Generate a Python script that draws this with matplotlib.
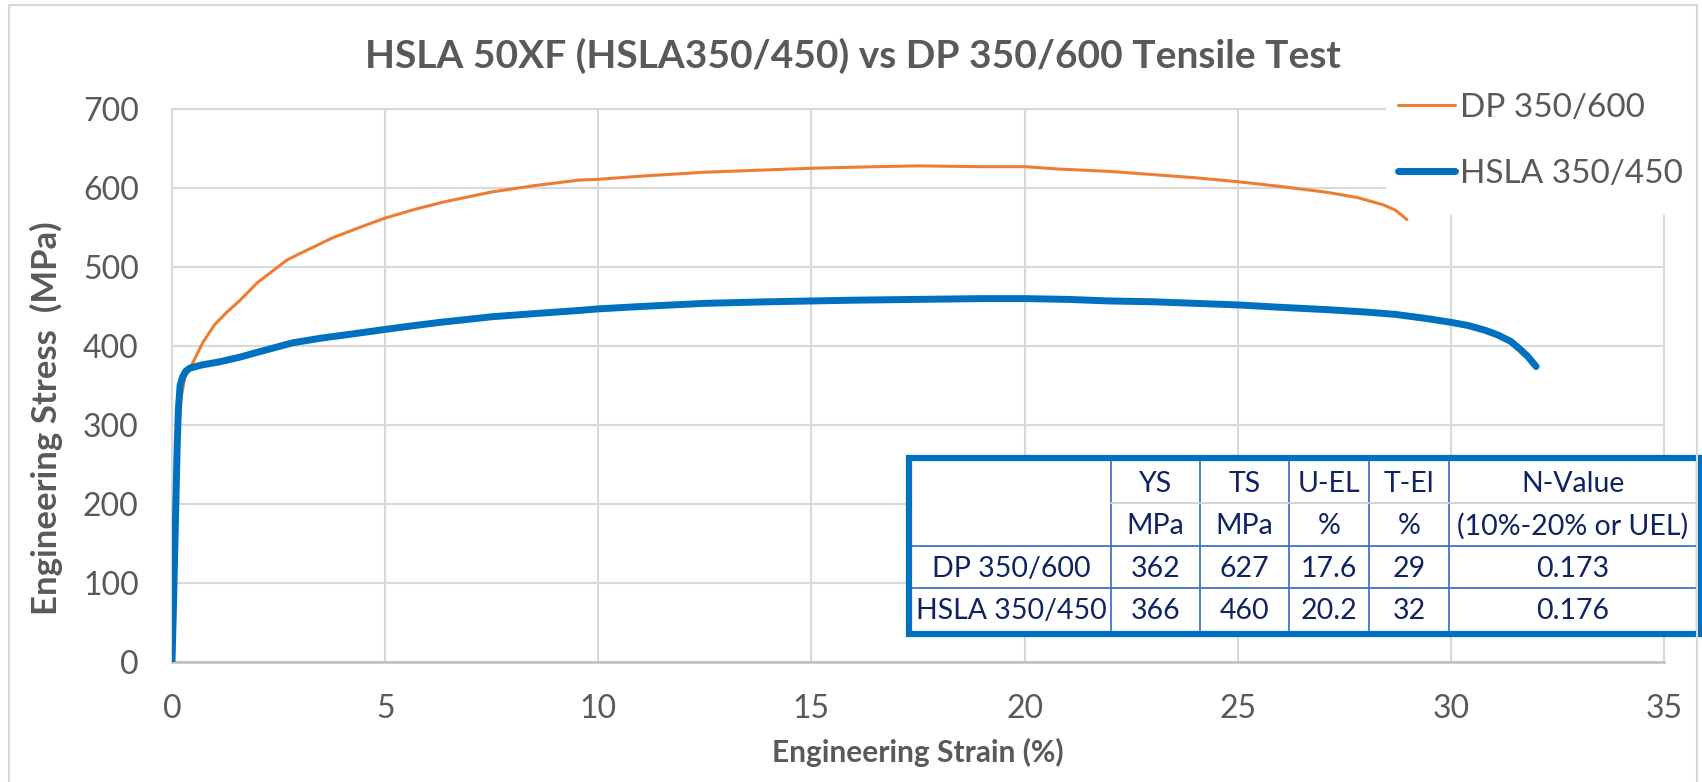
import matplotlib
matplotlib.use("Agg")
import matplotlib.pyplot as plt
from matplotlib.patches import Rectangle
from matplotlib.lines import Line2D

plt.rcParams['font.family'] = ['Lato', 'DejaVu Sans']

# ---------------- data ----------------
dp_strain = [0, 0.05, 0.1, 0.15, 0.2, 0.3, 0.5, 0.73, 1.0, 1.29, 1.6, 2.0, 2.7, 3.0,
             3.77, 4.3, 5.0, 5.7, 6.35, 7.5, 8.5, 9.55, 10, 11, 12.5, 14, 15, 16.5,
             17.5, 19, 20, 20.8, 22, 23, 24, 25, 26, 27.1, 27.8, 28.4, 28.7, 28.97]
dp_stress = [0, 90, 190, 280, 330, 360, 380, 405, 427, 443, 458, 480, 509, 517,
             537, 548, 562, 573, 582, 595, 603, 610, 611, 615, 620, 623, 625, 627,
             628, 627, 627, 624, 621, 617, 613, 608, 602, 594.5, 588, 579, 572, 560]

hsla_strain = [0, 0.03, 0.06, 0.09, 0.12, 0.15, 0.19, 0.25, 0.32, 0.42, 0.7, 1.12,
               1.6, 2.0, 2.83, 3.5, 4.2, 5.0, 5.7, 6.3, 7.5, 8.5, 9.55, 10, 11,
               12.5, 14, 15, 16, 17.5, 19, 20, 21, 22, 23, 24, 25, 26, 27.1, 28,
               28.7, 29.4, 30, 30.4, 30.8, 31.1, 31.4, 31.6, 31.8, 32.0]
hsla_stress = [0, 60, 130, 200, 270, 320, 350, 361, 368, 372, 376, 380, 386, 392,
               404, 410, 415, 421, 426, 430, 437, 441, 445, 447, 450, 454, 456,
               457, 458, 459, 460, 460, 459, 457, 456, 454, 452, 449, 446, 443,
               440, 435, 430, 426, 420, 414, 406, 397, 387, 374]

series_names = ["DP 350/600", "HSLA 350/450"]

x_ticks = [0, 5, 10, 15, 20, 25, 30, 35]
y_ticks = [0, 100, 200, 300, 400, 500, 600, 700]

title = "HSLA 50XF (HSLA350/450) vs DP 350/600 Tensile Test"
x_label = "Engineering Strain (%)"
y_label = "Engineering Stress  (MPa)"

table_header1 = ["", "YS", "TS", "U-EL", "T-El", "N-Value"]
table_header2 = ["", "MPa", "MPa", "%", "%", "(10%-20% or UEL)"]
table_rows = [["DP 350/600", "362", "627", "17.6", "29", "0.173"],
              ["HSLA 350/450", "366", "460", "20.2", "32", "0.176"]]

# ---------------- figure ----------------
W, H = 1702, 782
fig = plt.figure(figsize=(W / 100, H / 100), dpi=100)


def P(x, y):
    return (x / W, 1 - y / H)


L, R, T, B = 172, 1664, 109, 662
ax = fig.add_axes([L / W, 1 - B / H, (R - L) / W, (B - T) / H])

grid_c = '#D9D9D9'
text_c = '#595959'

dp_line, = ax.plot(dp_strain, dp_stress, color='#ED7D31', lw=2.2, zorder=3,
                   solid_capstyle='round', label=series_names[0])
hs_line, = ax.plot(hsla_strain, hsla_stress, color='#0070C0', lw=5.0, zorder=4,
                   solid_capstyle='round', solid_joinstyle='round', label=series_names[1])

ax.set_xlim(0, 35)
ax.set_ylim(0, 700)
ax.set_xticks(x_ticks)
ax.set_yticks(y_ticks)
ax.grid(True, color=grid_c, lw=1.5, zorder=0)
ax.set_axisbelow(True)
for s in ['left', 'top', 'right']:
    ax.spines[s].set_color(grid_c)
    ax.spines[s].set_linewidth(1.5)
    ax.spines[s].set_zorder(0.5)
ax.spines['bottom'].set_color('#BFBFBF')
ax.spines['bottom'].set_linewidth(1.8)
ax.tick_params(axis='both', length=0, labelsize=23, colors=text_c)
ax.tick_params(axis='x', pad=23)
ax.tick_params(axis='y', pad=24)

fig.text(*P(853, 56), title, ha='center', va='center', fontsize=28,
         fontweight='bold', color=text_c)
fig.text(*P(918, 752), x_label, ha='center', va='center', fontsize=21.5,
         fontweight='bold', color=text_c)
fig.text(*P(46, 418), y_label, ha='center', va='center', fontsize=25,
         fontweight='bold', color=text_c, rotation=90)

# white legend area (hides gridlines, stays under the curves)
ax.add_patch(Rectangle(P(1386, 215), (W - 1386) / W, 215 / H,
                       transform=fig.transFigure, facecolor='white',
                       edgecolor='none', zorder=1.5, clip_on=False))
fig.legend(handles=[dp_line, hs_line], labels=series_names, loc='upper left',
           bbox_to_anchor=P(1398, 93), frameon=False, fontsize=24,
           handlelength=1.7, handletextpad=0.15, labelspacing=1.08,
           borderpad=0, borderaxespad=0, labelcolor=text_c)

# ---------------- table ----------------
cols = [912, 1111, 1200, 1289, 1369, 1449, 1697]
rows = [462, 503, 546, 588, 630]
tab_c = '#0F2362'
fig.add_artist(Rectangle(P(909, 634), (1699 - 909) / W, (634 - 458) / H,
                         transform=fig.transFigure, facecolor='white',
                         edgecolor='#0070C0', lw=4.5, zorder=2))
for cx in cols[1:-1]:
    fig.add_artist(Line2D([cx / W, cx / W], [1 - rows[0] / H, 1 - rows[-1] / H],
                          transform=fig.transFigure, color='#4472C4', lw=1.3, zorder=3))
fig.add_artist(Line2D([cols[1] / W, cols[-1] / W], [1 - rows[1] / H] * 2,
                      transform=fig.transFigure, color='#D0D0D0', lw=1.3, zorder=3))
for ry in rows[2:4]:
    fig.add_artist(Line2D([cols[0] / W, cols[-1] / W], [1 - ry / H] * 2,
                          transform=fig.transFigure, color='#4472C4', lw=1.3, zorder=3))

all_rows = [table_header1, table_header2] + table_rows
for i, row in enumerate(all_rows):
    yc = (rows[i] + rows[i + 1]) / 2 + 2
    for j, txt in enumerate(row):
        if not txt:
            continue
        xc = (cols[j] + cols[j + 1]) / 2
        fig.text(*P(xc, yc), txt, ha='center', va='center', fontsize=20.5,
                 color=tab_c, zorder=4)

# outer chart border
fig.add_artist(Rectangle(P(9, 795), (1697 - 9) / W, (795 - 5) / H,
                         transform=fig.transFigure, facecolor='none',
                         edgecolor=grid_c, lw=1.5, zorder=5))

fig.savefig('out.png', dpi=100)
